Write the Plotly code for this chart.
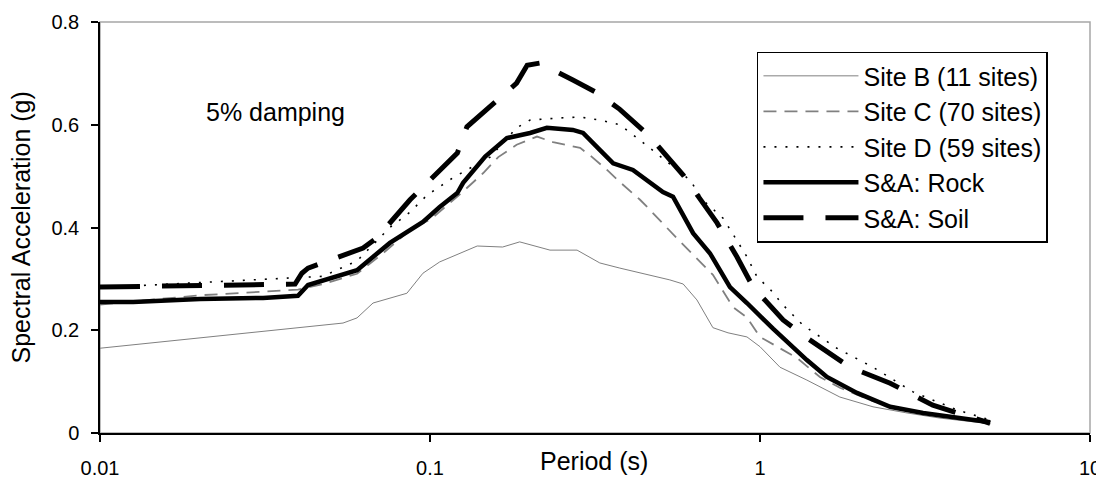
import plotly.graph_objects as go

# ---------------- data ----------------
site_b_period = [0.01, 0.0545, 0.0601, 0.0672, 0.0851, 0.0952, 0.107, 0.139, 0.166, 0.187,
                 0.231, 0.279, 0.327, 0.376, 0.533, 0.585, 0.644, 0.72, 0.80, 0.913, 1.0,
                 1.095, 1.15, 1.387, 1.746, 2.2, 2.79, 3.51, 5.0]
site_b = [0.165, 0.214, 0.224, 0.253, 0.272, 0.311, 0.333, 0.364, 0.362, 0.372,
          0.356, 0.356, 0.331, 0.321, 0.298, 0.290, 0.259, 0.205, 0.195, 0.187, 0.168,
          0.142, 0.128, 0.103, 0.070, 0.051, 0.039, 0.029, 0.018]

site_c_period = [0.01, 0.02, 0.0398, 0.0427, 0.0474, 0.0601, 0.0721, 0.0888, 0.1, 0.121,
                 0.145, 0.161, 0.183, 0.211, 0.236, 0.285, 0.31, 0.344, 0.371, 0.433,
                 0.455, 0.56, 0.72, 0.828, 0.913, 1.0, 1.15, 1.295, 1.519, 1.746, 2.2,
                 2.79, 3.51, 5.0]
site_c = [0.25, 0.268, 0.279, 0.283, 0.29, 0.31, 0.35, 0.40, 0.415, 0.46,
          0.506, 0.537, 0.561, 0.577, 0.566, 0.555, 0.537, 0.512, 0.492, 0.454,
          0.440, 0.379, 0.308, 0.245, 0.225, 0.187, 0.165, 0.146, 0.109, 0.088, 0.062,
          0.045, 0.032, 0.02]

site_d_period = [0.01, 0.0398, 0.0474, 0.0601, 0.0756, 0.087, 0.098, 0.1175, 0.135, 0.152,
                 0.183, 0.201, 0.243, 0.285, 0.327, 0.376, 0.433, 0.614, 0.672, 0.773,
                 0.913, 0.979, 1.072, 1.175, 1.349, 1.71, 2.2, 2.91, 3.95, 5.0]
site_d = [0.283, 0.303, 0.305, 0.335, 0.40, 0.430, 0.463, 0.497, 0.518, 0.537,
          0.594, 0.609, 0.613, 0.615, 0.609, 0.600, 0.570, 0.492, 0.453, 0.418,
          0.343, 0.304, 0.280, 0.249, 0.210, 0.165, 0.128, 0.080, 0.045, 0.025]

rock_period = [0.01, 0.0126, 0.0201, 0.0312, 0.0398, 0.0427, 0.0601, 0.0756, 0.0952, 0.107,
               0.121, 0.126, 0.147, 0.171, 0.201, 0.226, 0.271, 0.291, 0.327, 0.359,
               0.412, 0.508, 0.545, 0.627, 0.705, 0.811, 0.913, 1.095, 1.387, 1.595,
               1.967, 2.48, 3.12, 3.95, 4.98]
rock = [0.255, 0.255, 0.261, 0.263, 0.267, 0.288, 0.317, 0.370, 0.411, 0.440,
        0.467, 0.487, 0.538, 0.574, 0.584, 0.594, 0.590, 0.584, 0.551, 0.525,
        0.512, 0.469, 0.460, 0.389, 0.350, 0.284, 0.253, 0.203, 0.142, 0.109,
        0.078, 0.051, 0.039, 0.029, 0.021]

soil_period = [0.01, 0.0327, 0.039, 0.0409, 0.0427, 0.0627, 0.0691, 0.087, 0.098, 0.121,
               0.1294, 0.152, 0.183, 0.197, 0.215, 0.271, 0.321, 0.376, 0.464, 0.585,
               0.658, 0.741, 0.851, 0.953, 1.175, 1.387, 1.874, 2.48, 3.34, 4.42, 4.98]
soil = [0.284, 0.290, 0.290, 0.311, 0.321, 0.360, 0.380, 0.454, 0.487, 0.545,
        0.596, 0.635, 0.681, 0.716, 0.720, 0.687, 0.662, 0.630, 0.577, 0.502,
        0.454, 0.409, 0.343, 0.284, 0.220, 0.185, 0.128, 0.097, 0.054, 0.031, 0.019]

series_names = ["Site B (11 sites)", "Site C (70 sites)", "Site D (59 sites)",
                "S&A: Rock", "S&A: Soil"]

x_tickvals = [0.01, 0.1, 1, 10]
x_ticktext = ["0.01", "0.1", "1", "10"]
y_tickvals = [0, 0.2, 0.4, 0.6, 0.8]
y_ticktext = ["0", "0.2", "0.4", "0.6", "0.8"]

FONT = "Liberation Sans, Arial, sans-serif"

# ---------------- figure ----------------
fig = go.Figure()

styles = [
    dict(color="#808080", width=1, dash="solid"),
    dict(color="#808080", width=1.8, dash="13px,8px"),
    dict(color="black", width=1.6, dash="2px,9px"),
    dict(color="black", width=4.5, dash="solid"),
    dict(color="black", width=5, dash="40px,22px"),
]
data = [(site_b_period, site_b), (site_c_period, site_c), (site_d_period, site_d),
        (rock_period, rock), (soil_period, soil)]

for (px, py), name, st in zip(data, series_names, styles):
    fig.add_trace(go.Scatter(x=px, y=py, mode="lines", name=name, line=st,
                             legendgroup=name))

# the page body has an 8px margin, so the figure is 8px smaller than the window
fig.update_layout(
    width=1096, height=470,
    margin=dict(l=92, r=14, t=14, b=45, autoexpand=False),
    paper_bgcolor="white", plot_bgcolor="white",
    font=dict(family=FONT, size=20, color="black"),
    showlegend=True,
    legend=dict(
        x=0.6636, y=0.928, xanchor="left", yanchor="top",
        bgcolor="white", bordercolor="black", borderwidth=1.5,
        font=dict(family=FONT, size=25, color="black"),
        itemwidth=95, tracegroupgap=0, traceorder="normal",
        entrywidth=300, entrywidthmode="pixels",
    ),
    xaxis=dict(
        type="log", range=[-2, 1], tickmode="array", tickvals=x_tickvals,
        ticktext=x_ticktext, showgrid=False, zeroline=False, automargin=False,
        showline=True, linecolor="black", linewidth=1.5,
        ticks="outside", ticklen=7, tickcolor="black", tickwidth=1.5,
        ticklabelstandoff=9, tickfont=dict(family=FONT, size=20),
    ),
    yaxis=dict(
        range=[0, 0.8], tickmode="array", tickvals=y_tickvals, ticktext=y_ticktext,
        showgrid=False, zeroline=False, automargin=False,
        showline=True, linecolor="black", linewidth=1.5,
        ticks="outside", ticklen=7, tickcolor="black", tickwidth=1.5,
        ticklabelstandoff=8, tickfont=dict(family=FONT, size=20),
    ),
    shapes=[dict(type="rect", xref="paper", yref="paper", x0=0, x1=1, y0=0, y1=1,
                 line=dict(color="#a6a6a6", width=1.5), layer="below")],
    annotations=[
        dict(text="Period (s)", xref="paper", yref="paper", x=0.4985, y=-0.0693,
             xanchor="center", yanchor="middle", showarrow=False,
             font=dict(family=FONT, size=25)),
        dict(text="Spectral Acceleration (g)", xref="paper", yref="paper",
             x=-0.0808, y=0.5, textangle=-90, xanchor="center", yanchor="middle",
             showarrow=False, font=dict(family=FONT, size=25)),
        dict(text="5% damping", xref="paper", yref="paper", x=0.1768, y=0.781,
             xanchor="center", yanchor="middle", showarrow=False,
             font=dict(family=FONT, size=25)),
    ],
)

fig.write_html("out.html")
